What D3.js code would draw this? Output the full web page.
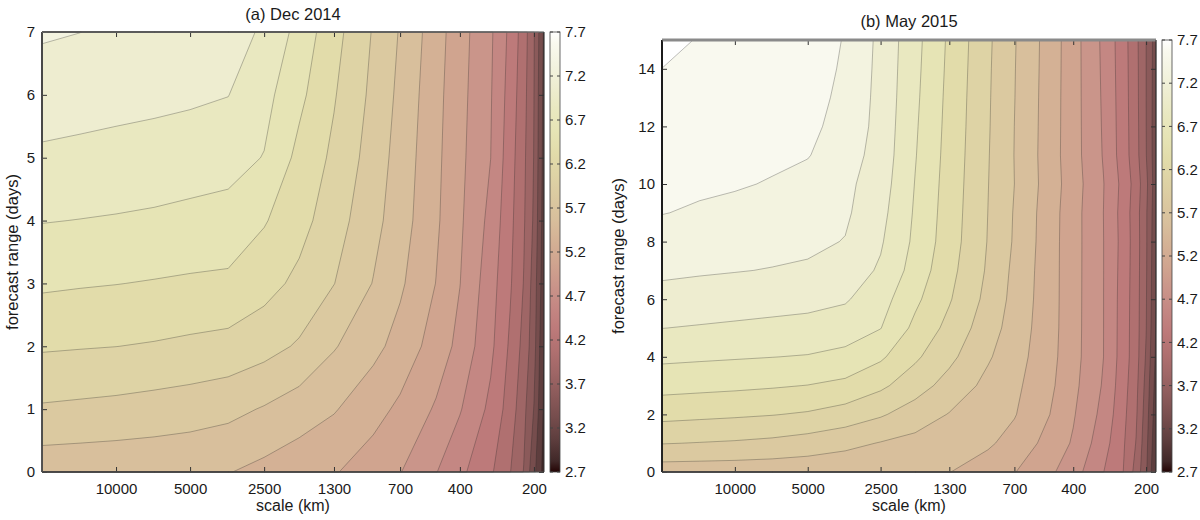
<!DOCTYPE html>
<html>
<head>
<meta charset="utf-8">
<script src="https://cdn.jsdelivr.net/npm/d3@7/dist/d3.min.js"></script>
<style>
	body { margin: 0; background: #fff; }
	text { font-family: "Liberation Sans", Arial, sans-serif; fill: #1a1a1a; }
</style>
</head>
<body>
<script>

// ---------- Data ---------- //

// scale (km) of each grid column, large scales on the left
var scaleKm = [20000, 14000, 10000, 7000, 5000, 3500, 2500, 1800, 1300, 900, 700, 500, 400, 300, 250, 220, 200, 182];
var scaleTicks = [10000, 5000, 2500, 1300, 700, 400, 200];

// contour levels and colour bar labels
var levels = [2.7, 2.95, 3.2, 3.45, 3.7, 3.95, 4.2, 4.45, 4.7, 4.95, 5.2, 5.45, 5.7, 5.95, 6.2, 6.45, 6.7, 6.95, 7.2, 7.45, 7.7];
var barTicks = [2.7, 3.2, 3.7, 4.2, 4.7, 5.2, 5.7, 6.2, 6.7, 7.2, 7.7];

// (a) Dec 2014 : one row per forecast day, one value per scale column
var decDays = [0, 1, 2, 3, 4, 5, 6, 7];
var decDayTicks = [0, 1, 2, 3, 4, 5, 6, 7];
var decValues = [
	[5.54, 5.53, 5.52, 5.51, 5.49, 5.46, 5.38, 5.30, 5.22, 5.07, 4.96, 4.71, 4.51, 4.24, 3.96, 3.69, 3.27, 2.85],
	[5.92, 5.90, 5.88, 5.85, 5.82, 5.77, 5.68, 5.575, 5.47, 5.29, 5.15, 4.92, 4.72, 4.39, 4.09, 3.77, 3.44, 2.90],
	[6.23, 6.215, 6.202, 6.18, 6.15, 6.12, 6.04, 5.92, 5.72, 5.52, 5.36, 5.09, 4.88, 4.51, 4.16, 3.87, 3.55, 2.94],
	[6.49, 6.47, 6.455, 6.435, 6.415, 6.40, 6.29, 6.14, 5.955, 5.69, 5.49, 5.195, 4.955, 4.56, 4.23, 3.94, 3.59, 3.02],
	[6.71, 6.695, 6.68, 6.66, 6.635, 6.61, 6.47, 6.29, 6.06, 5.78, 5.565, 5.24, 4.99, 4.63, 4.27, 3.98, 3.66, 3.06],
	[6.91, 6.89, 6.87, 6.85, 6.82, 6.79, 6.69, 6.38, 6.15, 5.84, 5.60, 5.26, 5.01, 4.702, 4.31, 4.005, 3.69, 3.09],
	[7.07, 7.05, 7.03, 7.01, 6.99, 6.955, 6.78, 6.51, 6.22, 5.89, 5.64, 5.28, 5.03, 4.72, 4.35, 4.04, 3.702, 3.12],
	[7.23, 7.202, 7.15, 7.10, 7.05, 7.01, 6.93, 6.61, 6.29, 5.93, 5.68, 5.31, 5.05, 4.74, 4.39, 4.075, 3.72, 3.16]
];

// (b) May 2015
var mayDays = [0, 1, 2, 3, 4, 5, 6, 7, 8, 9, 10, 11, 12, 13, 14, 15];
var mayDayTicks = [0, 2, 4, 6, 8, 10, 12, 14];
var mayValues = [
	[5.56, 5.555, 5.55, 5.54, 5.53, 5.51, 5.49, 5.47, 5.455, 5.335, 5.21, 4.996, 4.81, 4.454, 4.215, 3.864, 3.49, 2.93],
	[5.96, 5.941, 5.922, 5.891, 5.84, 5.769, 5.687, 5.625, 5.56, 5.484, 5.364, 5.112, 4.922, 4.551, 4.246, 3.94, 3.529, 3.0],
	[6.28, 6.257, 6.236, 6.21, 6.173, 6.094, 5.979, 5.832, 5.688, 5.555, 5.466, 5.201, 4.974, 4.625, 4.283, 3.985, 3.575, 3.05],
	[6.535, 6.516, 6.498, 6.474, 6.445, 6.388, 6.249, 6.06, 5.856, 5.633, 5.508, 5.253, 5.016, 4.675, 4.316, 4.018, 3.62, 3.1],
	[6.755, 6.737, 6.721, 6.704, 6.686, 6.634, 6.49, 6.242, 6.012, 5.728, 5.557, 5.282, 5.04, 4.701, 4.344, 4.053, 3.673, 3.15],
	[6.953, 6.932, 6.912, 6.89, 6.869, 6.822, 6.707, 6.39, 6.128, 5.813, 5.594, 5.297, 5.045, 4.702, 4.349, 4.056, 3.71, 3.18],
	[7.11, 7.089, 7.068, 7.047, 7.026, 6.976, 6.80, 6.503, 6.222, 5.879, 5.624, 5.302, 5.047, 4.702, 4.354, 4.06, 3.72, 3.21],
	[7.25, 7.227, 7.21, 7.19, 7.165, 7.085, 6.918, 6.598, 6.277, 5.918, 5.645, 5.304, 5.048, 4.703, 4.363, 4.064, 3.73, 3.22],
	[7.36, 7.327, 7.304, 7.275, 7.254, 7.19, 6.977, 6.65, 6.317, 5.939, 5.674, 5.307, 5.049, 4.703, 4.373, 4.068, 3.735, 3.24],
	[7.456, 7.427, 7.398, 7.356, 7.326, 7.238, 7.024, 6.672, 6.332, 5.948, 5.683, 5.313, 5.05, 4.699, 4.363, 4.059, 3.735, 3.26],
	[7.505, 7.482, 7.468, 7.437, 7.37, 7.26, 7.067, 6.692, 6.346, 5.956, 5.70, 5.333, 5.068, 4.708, 4.385, 4.09, 3.77, 3.29],
	[7.553, 7.523, 7.509, 7.485, 7.462, 7.316, 7.099, 6.714, 6.36, 5.964, 5.695, 5.324, 5.051, 4.683, 4.342, 4.04, 3.71, 3.28],
	[7.60, 7.564, 7.55, 7.527, 7.503, 7.369, 7.114, 6.731, 6.372, 5.972, 5.699, 5.329, 5.051, 4.674, 4.336, 4.034, 3.703, 3.28],
	[7.65, 7.605, 7.591, 7.568, 7.545, 7.388, 7.125, 6.749, 6.383, 5.978, 5.706, 5.332, 5.051, 4.666, 4.331, 4.026, 3.702, 3.29],
	[7.699, 7.652, 7.632, 7.607, 7.584, 7.41, 7.132, 6.764, 6.396, 5.985, 5.711, 5.337, 5.052, 4.658, 4.325, 4.021, 3.702, 3.3],
	[7.748, 7.69, 7.673, 7.648, 7.625, 7.43, 7.139, 6.778, 6.408, 5.994, 5.718, 5.341, 5.053, 4.65, 4.319, 4.013, 3.702, 3.31]
];

// ---------- Colour map ---------- //

var cmapValues = [2.7, 2.825, 3.075, 3.325, 3.575, 3.825, 4.075, 4.325, 4.575, 4.825, 5.075,
	5.325, 5.575, 5.825, 6.075, 6.325, 6.575, 6.825, 7.075, 7.325, 7.575, 7.7];
var cmapColours = ["#240404", "#402828", "#5e3e3e", "#764d4d", "#8b5a5a", "#9f6666", "#b07070",
	"#bd7a7a", "#c48783", "#ca958a", "#d0a48f", "#d4b195", "#d8bf9c", "#dbc9a0", "#ded3a5",
	"#e2dcaa", "#e6e4b5", "#e9e8c0", "#eeedd0", "#f3f3e0", "#f9f9ef", "#ffffff"];

var colour = d3.scaleLinear()
		.domain(cmapValues)
		.range(cmapColours)
		.clamp(true);

// ---------- Canvas ---------- //

var svg = d3.select("body").append("svg")
		.attr("width", 1200)
		.attr("height", 520);

var defs = svg.append("defs");

// --- one contour panel with its colour bar --- //
function drawPanel(p) {

	var x = d3.scaleLog()
			.domain([scaleKm[0], scaleKm[scaleKm.length - 1]])
			.range([p.left, p.right]);

	var y = d3.scaleLinear()
			.domain([0, p.days[p.days.length - 1]])
			.range([p.bottom, p.top]);

	var nx = scaleKm.length;
	var ny = p.days.length;

	// d3.contours puts grid value i at i + 0.5; map that back through the scales
	function gridToPixel(g, n, pos) {
		g = Math.max(0, Math.min(n - 1, g - 0.5));
		var i = Math.min(Math.floor(g), n - 2);
		var t = g - i;
		return pos(i) + t * (pos(i + 1) - pos(i));
	}
	function colX(i) { return x(scaleKm[i]); }
	function rowY(j) { return y(p.days[j]); }

	var path = d3.geoPath(d3.geoTransform({
		point: function(gx, gy) {
			this.stream.point(gridToPixel(gx, nx, colX), gridToPixel(gy, ny, rowY));
		}
	}));

	var contours = d3.contours()
			.size([nx, ny])
			.thresholds(levels)(d3.merge(p.values));

	var g = svg.append("g");

	// filled bands
	g.selectAll("path.band")
			.data(contours)
			.enter().append("path")
			.attr("class", "band")
			.attr("d", path)
			.attr("fill", function(d) { return colour(d.value + 0.125); });

	// contour lines
	g.selectAll("path.iso")
			.data(contours.slice(1))
			.enter().append("path")
			.attr("class", "iso")
			.attr("d", path)
			.attr("fill", "none")
			.attr("stroke", "#262626")
			.attr("stroke-opacity", 0.5)
			.attr("stroke-width", 0.6);

	// --- Axes --- //
	var xBottom = g.append("g")
			.attr("transform", "translate(0," + p.bottom + ")")
			.call(d3.axisBottom(x).tickValues(scaleTicks).tickFormat(d3.format("d"))
				.tickSize(-5).tickPadding(11));
	var xTop = g.append("g")
			.attr("transform", "translate(0," + p.top + ")")
			.call(d3.axisTop(x).tickValues(scaleTicks).tickFormat("").tickSize(-5));
	var yLeft = g.append("g")
			.attr("transform", "translate(" + p.left + ",0)")
			.call(d3.axisLeft(y).tickValues(p.dayTicks).tickFormat(d3.format("d"))
				.tickSize(-5).tickPadding(7));
	var yRight = g.append("g")
			.attr("transform", "translate(" + p.right + ",0)")
			.call(d3.axisRight(y).tickValues(p.dayTicks).tickFormat("").tickSize(-5));

	[xBottom, xTop, yLeft, yRight].forEach(function(a) {
		a.select(".domain").remove();
		a.selectAll(".tick line").attr("stroke", "#333");
		a.selectAll("text")
				.attr("font-size", "15px")
				.attr("font-family", "Liberation Sans, Arial, sans-serif")
				.attr("fill", "#1a1a1a");
	});

	// frame
	g.append("line")
			.attr("x1", p.left).attr("x2", p.right)
			.attr("y1", p.top).attr("y2", p.top)
			.attr("stroke", "#8a8a8a")
			.attr("stroke-width", p.topWidth);
	g.append("line")
			.attr("x1", p.left).attr("x2", p.left)
			.attr("y1", p.top).attr("y2", p.bottom)
			.attr("stroke", p.leftColour);
	g.append("line")
			.attr("x1", p.left).attr("x2", p.right)
			.attr("y1", p.bottom).attr("y2", p.bottom)
			.attr("stroke", "#555");
	g.append("line")
			.attr("x1", p.right).attr("x2", p.right)
			.attr("y1", p.top).attr("y2", p.bottom)
			.attr("stroke", "#333");

	// --- Colour bar --- //
	var bar = d3.scaleLinear()
			.domain([levels[0], levels[levels.length - 1]])
			.range([p.bottom, p.top]);

	var grad = defs.append("linearGradient")
			.attr("id", p.id + "Grad")
			.attr("x1", 0).attr("y1", 1)
			.attr("x2", 0).attr("y2", 0);
	cmapValues.forEach(function(v, i) {
		grad.append("stop")
				.attr("offset", (v - levels[0]) / (levels[levels.length - 1] - levels[0]))
				.attr("stop-color", cmapColours[i]);
	});

	g.append("rect")
			.attr("x", p.barX)
			.attr("y", p.top)
			.attr("width", 10)
			.attr("height", p.bottom - p.top)
			.attr("fill", "url(#" + p.id + "Grad)")
			.attr("stroke", "#444")
			.attr("stroke-width", 0.8);

	var barTick = g.append("g");
	barTicks.forEach(function(v) {
		barTick.append("line")
				.attr("x1", p.barX).attr("x2", p.barX + 3)
				.attr("y1", bar(v)).attr("y2", bar(v))
				.attr("stroke", "#444");
		barTick.append("line")
				.attr("x1", p.barX + 7).attr("x2", p.barX + 10)
				.attr("y1", bar(v)).attr("y2", bar(v))
				.attr("stroke", "#444");
		barTick.append("text")
				.attr("x", p.barX + 15)
				.attr("y", bar(v))
				.attr("dy", "0.35em")
				.attr("font-size", "15px")
				.text(d3.format(".1f")(v));
	});

	// --- Text --- //
	g.append("text")
			.attr("x", (p.left + p.right) / 2)
			.attr("y", p.titleY)
			.attr("text-anchor", "middle")
			.attr("font-size", "16.5px")
			.text(p.title);

	g.append("text")
			.attr("x", (p.left + p.right) / 2)
			.attr("y", 511)
			.attr("text-anchor", "middle")
			.attr("font-size", "16px")
			.text("scale (km)");

	g.append("text")
			.attr("transform", "translate(" + p.yLabelX + "," + ((p.top + p.bottom) / 2) + ") rotate(-90)")
			.attr("text-anchor", "middle")
			.attr("font-size", "16.5px")
			.text("forecast range (days)");
}

drawPanel({
	id: "dec",
	title: "(a) Dec 2014",
	titleY: 20,
	days: decDays,
	dayTicks: decDayTicks,
	values: decValues,
	left: 42, right: 544, top: 32, bottom: 472,
	barX: 550,
	yLabelX: 18,
	topWidth: 1,
	leftColour: "#666"
});

drawPanel({
	id: "may",
	title: "(b) May 2015",
	titleY: 27,
	days: mayDays,
	dayTicks: mayDayTicks,
	values: mayValues,
	left: 662, right: 1156, top: 40, bottom: 472,
	barX: 1162,
	yLabelX: 624,
	topWidth: 3,
	leftColour: "#111"
});

</script>
</body>
</html>
